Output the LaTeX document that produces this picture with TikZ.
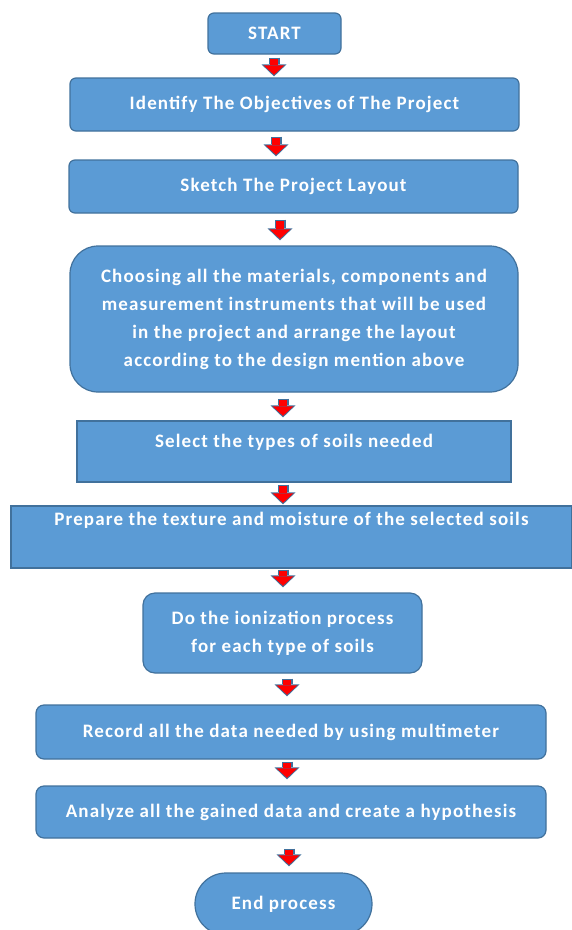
\documentclass[tikz,border=0pt]{standalone}
\usepackage{fontspec}
\setmainfont{Carlito}[LetterSpace=6]
\usetikzlibrary{arrows.meta}
\definecolor{boxc}{HTML}{5B9BD5}
\definecolor{bordc}{HTML}{41719C}
\definecolor{arrred}{HTML}{FF0000}
\begin{document}
\begin{tikzpicture}[x=1pt,y=-1pt,
  box/.style={draw=bordc, fill=boxc, line width=1.2pt, text=white,
    font=\fontsize{19}{28}\selectfont\bfseries, align=center, inner sep=0pt},
  arrout/.style={draw=bordc, line width=11pt, -{Triangle[width=25pt,length=12pt,line width=0pt]}},
  arrin/.style={draw=arrred, line width=8.5pt, shorten >=1.6pt, shorten <=1pt, -{Triangle[width=21pt,length=9.5pt,line width=0pt]}}
]
\useasboundingbox (0,0) rectangle (571,930);
\node[box, rounded corners=6pt, minimum width=133pt, minimum height=41pt] (n1) at (274.5,33.5) {START};
\node[box, rounded corners=6pt, minimum width=449pt, minimum height=53pt] (n2) at (294.5,104.5) {Identify The Objectives of The Project};
\node[box, rounded corners=6pt, minimum width=449pt, minimum height=53pt] (n3) at (293.5,186.5) {Sketch The Project Layout};
\node[box, rounded corners=28pt, minimum width=448pt, minimum height=146pt] (n4) at (294,319)
  {Choosing all the materials, components and\\ measurement instruments that will be used\\ in the project and arrange the layout\\ according to the design mention above};
\node[box, minimum width=434pt, text height=26pt, text depth=35pt] (n5) at (294,451.5) {Select the types of soils needed};
\node[box, minimum width=561pt, text height=19pt, text depth=43pt] (n6) at (291.5,537) {Prepare the texture and moisture of the selected soils};
\node[box, rounded corners=12pt, minimum width=279pt, minimum height=80pt] (n7) at (282.5,633) {Do the ionization process\\ for each type of soils};
\node[box, rounded corners=8pt, minimum width=510pt, minimum height=54pt] (n8) at (291,732) {Record all the data needed by using multimeter};
\node[box, rounded corners=8pt, minimum width=510pt, minimum height=52pt] (n9) at (291,812) {Analyze all the gained data and create a hypothesis};
\node[box, rounded corners=30.9pt, minimum width=177pt, minimum height=62pt] (n10) at (283.5,904) {End process};
\foreach \a/\b/\dx/\gt/\gb in {n1/n2/-0.5/3/1, n2/n3/-18.5/5/3, n3/n4/-13.5/6/5, n4/n5/-11/6/3, n5/n6/-11/2/1,
  n6/n7/-8.5/1/5, n7/n8/4.5/5/8, n8/n9/-4/2/6, n9/n10/-2/10/6} {
  \coordinate (s) at ([xshift=\dx pt, yshift=-\gt pt]\a.south);
  \coordinate (e) at ([yshift=\gb pt]\b.north -| s);
  \draw[arrout] (s) -- (e);
  \draw[arrin] (s) -- (e);
}
\end{tikzpicture}
\end{document}
